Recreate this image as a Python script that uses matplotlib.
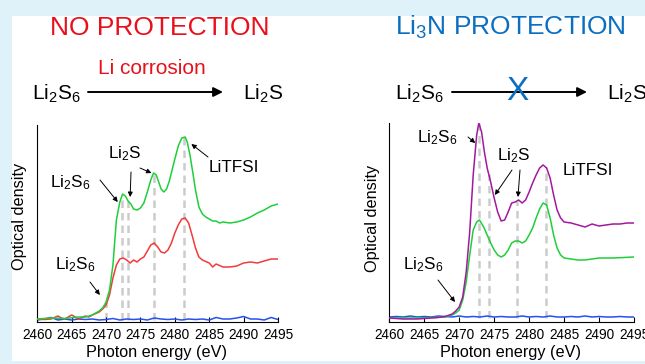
import matplotlib

matplotlib.use("Agg")
import matplotlib.pyplot as plt
import numpy as np
from matplotlib.patches import FancyArrowPatch, Rectangle

plt.rcParams["font.family"] = ["Liberation Sans", "DejaVu Sans"]
plt.rcParams["mathtext.fontset"] = "custom"
plt.rcParams["mathtext.rm"] = "Liberation Sans"
plt.rcParams["mathtext.it"] = "Liberation Sans:italic"
plt.rcParams["mathtext.bf"] = "Liberation Sans:bold"

W, H = 645, 364

# ---- S K-edge XANES, left panel (no protection) ----
left_green_E = [2460, 2462, 2464, 2466, 2467, 2468, 2469, 2469.5, 2470, 2470.5, 2471, 2471.5,
                2472, 2472.4, 2472.8, 2473.2, 2473.6, 2474, 2474.5, 2475, 2475.5, 2476, 2476.5,
                2476.9, 2477.3, 2477.7, 2478, 2478.4, 2478.8, 2479.2, 2479.6, 2480, 2480.5, 2481,
                2481.5, 2481.8, 2482.2, 2482.6, 2483, 2483.5, 2484, 2484.5, 2485, 2485.5, 2486,
                2486.5, 2487, 2488, 2489, 2490, 2491, 2492, 2493, 2494, 2495]
left_green = [1, 2, 1.5, 3, 3, 5, 9, 12, 18, 30, 55, 100,
              118, 126, 124, 119, 116, 111, 110, 112, 117, 128, 140,
              147, 145, 137, 131, 128, 131, 139, 150, 161, 174, 182,
              183, 178, 165, 148, 130, 113, 106, 103, 101, 99, 99,
              97, 98, 97, 98, 100, 103, 107, 110, 114, 116]

left_red_E = [2460, 2461, 2462, 2463, 2463.5, 2464, 2465, 2465.5, 2466, 2467, 2467.5, 2468, 2469,
              2469.5, 2470, 2470.5, 2471, 2471.5, 2472, 2472.5, 2473, 2473.5, 2474, 2474.5, 2475,
              2475.5, 2476, 2476.5, 2477, 2477.5, 2478, 2478.5, 2479, 2479.5, 2480, 2480.5, 2481,
              2481.5, 2482, 2482.5, 2483, 2483.5, 2484, 2485, 2485.5, 2486, 2487, 2488, 2489,
              2490, 2491, 2492, 2493, 2494, 2495]
left_red = [1, 0.5, 1, 4, 2, 1, 5, 3, 1, 4, 3, 5, 8,
            11, 15, 25, 42, 55, 61, 62, 60, 57, 60, 58, 61,
            63, 69, 75, 77, 73, 68, 67, 70, 77, 87, 95, 101,
            102, 97, 85, 72, 63, 60, 57, 53, 56, 53, 53, 54,
            57, 58, 57, 59, 61, 61]

left_blue_E = list(range(2460, 2496))
left_blue = [0, 1, 2.5, 0, 1, 0, 1, 0.5, 1, 0, 0.5, 1.5, 0, 1, 0.5, 1, 0, 2, 1, 0.5,
             1, 0, 1, 0.5, 1, 0, 2.5, 1, 1, 2, 3.5, 1, 1, 0, 2.5, 0.5]

# ---- right panel (Li3N protection) ----
right_mag_E = [2460, 2462, 2464, 2466, 2467, 2468, 2469, 2469.5, 2470, 2470.5, 2471, 2471.5,
               2472, 2472.5, 2472.8, 2473.2, 2473.6, 2474, 2474.5, 2475, 2475.5, 2476, 2476.5,
               2477, 2477.5, 2478, 2478.5, 2479, 2479.5, 2480, 2480.5, 2481, 2481.5, 2482,
               2482.5, 2483, 2483.5, 2484, 2484.5, 2485, 2486, 2487, 2488, 2489, 2490, 2491,
               2492, 2493, 2494, 2495]
right_mag = [0, -1, -1, 0, 0.5, 1.5, 4, 7, 11, 21, 46, 86,
             143, 183, 195, 186, 166, 150, 136, 120, 106, 97, 98,
             106, 115, 116, 118, 115, 118, 126, 135, 143, 150, 153,
             150, 140, 123, 108, 100, 96, 95, 93, 91, 94, 92, 93,
             94, 94, 95, 95]

right_green_E = [2460, 2462, 2464, 2466, 2468, 2469, 2469.5, 2470, 2470.5, 2471, 2471.5, 2472,
                 2472.5, 2472.9, 2473.5, 2474, 2474.5, 2475, 2475.5, 2476, 2476.5, 2477, 2477.5,
                 2478, 2478.5, 2479, 2479.5, 2480, 2480.5, 2481, 2481.5, 2482, 2482.5, 2483,
                 2483.5, 2484, 2484.5, 2485, 2486, 2487, 2488, 2489, 2490, 2492, 2495]
right_green = [0, 0, 0, 0.5, 1, 3, 5, 8, 18, 36, 63, 88,
               96, 98, 91, 83, 75, 68, 63, 61, 63, 68, 75,
               77, 77, 75, 77, 83, 90, 100, 109, 115, 113, 100,
               83, 70, 63, 60, 59, 58, 58, 59, 60, 60, 61]

right_blue_E = list(range(2460, 2496))
right_blue = [1, 1.5, 1, 2, 1, 1.5, 1, 2, 1.5, 1, 2, 1, 1.5, 1, 2, 1, 1.5, 1, 1, 2,
              1, 1.5, 1, 2, 1, 1, 1.5, 1, 2, 1, 1.5, 1, 1, 1.5, 1, 1]

# peak positions marked by dashed guides
left_guides = [2470.0, 2472.3, 2473.2, 2477.0, 2481.3]
right_guides = [2472.8, 2474.2, 2478.3, 2482.4]

GREEN = "#1fcf3a"
RED = "#f23a3a"
MAGENTA = "#a3199e"
BLUE = "#2650f0"
GUIDE = "#cccccc"
TITLE_RED = "#e8101a"
TITLE_BLUE = "#0a6fc2"
BG = "#dff1f9"


def fxy(x, y):
    """pixel position (from top-left) -> figure fraction"""
    return x / W, 1 - y / H


def label(text, x, y, size=12.3, color="k", **kw):
    fig.text(*fxy(x, y), text, fontsize=size, color=color, va="baseline", **kw)


def pointer(ax, tip, tail):
    ax.annotate("", xy=tip, xycoords="data", xytext=(tail[0], H - tail[1]),
                textcoords="figure pixels", annotation_clip=False,
                arrowprops=dict(arrowstyle="-|>", color="k", lw=0.7,
                                mutation_scale=7, shrinkA=0, shrinkB=0))


fig = plt.figure(figsize=(W / 100, H / 100), dpi=100, facecolor=BG)
fig.patches.append(Rectangle(fxy(12, 361), 633 / W, 345 / H, transform=fig.transFigure,
                             facecolor="white", edgecolor="none", zorder=-10))

ax1 = fig.add_axes([37.3 / W, (H - 322) / H, 240.7 / W, 197 / H])
ax2 = fig.add_axes([389.3 / W, (H - 322) / H, 244.7 / W, 199 / H])
ax1.set_ylim(-2, 195)
ax2.set_ylim(-4, 195)

for ax, guides, top_E, top_v in [(ax1, left_guides, left_green_E, left_green),
                                 (ax2, right_guides, right_mag_E, right_mag)]:
    heights = np.interp(guides, top_E, top_v)
    ax.vlines(guides, 0, heights, colors=GUIDE, linestyles=(0, (3, 2)), lw=1.8, zorder=1)

ax1.plot(left_blue_E, left_blue, color=BLUE, lw=1.1, zorder=2)
ax1.plot(left_red_E, left_red, color=RED, lw=1.1, zorder=3)
ax1.plot(left_green_E, left_green, color=GREEN, lw=1.1, zorder=4)

ax2.plot(right_blue_E, right_blue, color=BLUE, lw=1.1, zorder=2)
ax2.plot(right_green_E, right_green, color=GREEN, lw=1.1, zorder=3)
ax2.plot(right_mag_E, right_mag, color=MAGENTA, lw=1.1, zorder=4)

for ax in (ax1, ax2):
    ax.set_facecolor("none")
    ax.set_xlim(2460, 2495)
    ax.set_xticks(np.arange(2460, 2496, 5))
    ax.set_yticks([])
    ax.spines[["top", "right"]].set_visible(False)
    ax.spines[["left", "bottom"]].set_linewidth(0.8)
    ax.tick_params(axis="x", direction="in", length=3.5, width=0.8, labelsize=9.8, pad=4)

# axis titles
for xc, yc in [(20, 216), (372, 218)]:
    fig.text(*fxy(xc, yc), "Optical density", rotation=90, fontsize=11.7,
             ha="center", va="center")
for xc in (157, 511):
    fig.text(*fxy(xc, 352.5), "Photon energy (eV)", fontsize=11.7, ha="center", va="center")

# headers
fig.text(*fxy(160, 35), "NO PROTECTION", fontsize=19, color=TITLE_RED,
         ha="center", va="baseline")
label("Li$_3$N PROTECTION", 395, 35, size=19, color=TITLE_BLUE)

# reaction schemes
label("Li corrosion", 98, 74, size=15, color=TITLE_RED)
label("Li$_2$S$_6$", 32, 100, size=15)
label("Li$_2$S", 243, 100, size=15)
label("Li$_2$S$_6$", 395, 100, size=15)
label("Li$_2$S", 607, 100, size=15)
for x0, x1 in [(88, 223), (452, 587)]:
    fig.patches.append(FancyArrowPatch(fxy(x0, 92), fxy(x1, 92), transform=fig.transFigure,
                                       arrowstyle="-|>", mutation_scale=14, lw=1.4,
                                       color="k", shrinkA=0, shrinkB=0))
fig.text(*fxy(517, 92), "X", fontsize=24, color=TITLE_BLUE, ha="center", va="center")

# peak assignments, left
label("Li$_2$S$_6$", 50, 187)
label("Li$_2$S", 108, 158)
label("LiTFSI", 209, 172)
label("Li$_2$S$_6$", 55, 269)
pointer(ax1, (2471.7, 118), (100, 180))
pointer(ax1, (2473.5, 123), (131, 172))
pointer(ax1, (2476.6, 147), (140, 168))
pointer(ax1, (2482.4, 176), (208, 157))
pointer(ax1, (2469.1, 25), (90, 282))

# peak assignments, right
label("Li$_2$S$_6$", 417, 142)
label("Li$_2$S", 497, 160)
label("LiTFSI", 563, 175)
label("Li$_2$S$_6$", 403, 269)
pointer(ax2, (2472.3, 175), (468, 137))
pointer(ax2, (2475.1, 123), (512, 170))
pointer(ax2, (2478.4, 121), (520, 170))
pointer(ax2, (2469.4, 16), (438, 280))

fig.savefig("out.png", dpi=100, facecolor=BG)
